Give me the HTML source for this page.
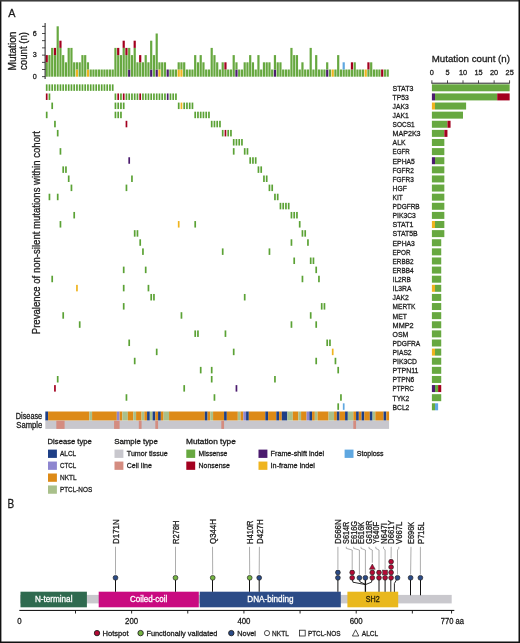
<!DOCTYPE html>
<html><head><meta charset="utf-8"><style>
html,body{margin:0;padding:0;background:#fff;overflow:hidden;}
svg{display:block;will-change:transform;}
text{font-family:"Liberation Sans",sans-serif;fill:#1c1c1c;stroke:#1c1c1c;stroke-width:0.3px;}
</style></head><body>
<svg width="520" height="643" viewBox="0 0 520 643">
<rect width="520" height="643" fill="#fff"/>
<rect x="45.60" y="62.30" width="2.2" height="14.40" fill="#67a840"/>
<rect x="45.60" y="55.10" width="2.2" height="7.20" fill="#a3001f"/>
<rect x="48.35" y="55.10" width="2.2" height="21.60" fill="#67a840"/>
<rect x="51.10" y="47.90" width="2.2" height="28.80" fill="#67a840"/>
<rect x="53.85" y="55.10" width="2.2" height="21.60" fill="#67a840"/>
<rect x="53.85" y="47.90" width="2.2" height="7.20" fill="#a3001f"/>
<rect x="56.60" y="26.30" width="2.2" height="50.40" fill="#67a840"/>
<rect x="59.35" y="47.90" width="2.2" height="28.80" fill="#67a840"/>
<rect x="59.35" y="40.70" width="2.2" height="7.20" fill="#a3001f"/>
<rect x="62.10" y="55.10" width="2.2" height="21.60" fill="#67a840"/>
<rect x="64.85" y="62.30" width="2.2" height="14.40" fill="#67a840"/>
<rect x="67.60" y="47.90" width="2.2" height="28.80" fill="#67a840"/>
<rect x="70.35" y="47.90" width="2.2" height="28.80" fill="#67a840"/>
<rect x="73.10" y="62.30" width="2.2" height="14.40" fill="#67a840"/>
<rect x="75.85" y="69.50" width="2.2" height="7.20" fill="#efb41f"/>
<rect x="75.85" y="62.30" width="2.2" height="7.20" fill="#67a840"/>
<rect x="78.60" y="62.30" width="2.2" height="14.40" fill="#67a840"/>
<rect x="81.35" y="55.10" width="2.2" height="21.60" fill="#67a840"/>
<rect x="84.10" y="55.10" width="2.2" height="21.60" fill="#67a840"/>
<rect x="86.85" y="69.50" width="2.2" height="7.20" fill="#efb41f"/>
<rect x="86.85" y="62.30" width="2.2" height="7.20" fill="#67a840"/>
<rect x="89.60" y="69.50" width="2.2" height="7.20" fill="#67a840"/>
<rect x="92.35" y="69.50" width="2.2" height="7.20" fill="#67a840"/>
<rect x="95.10" y="69.50" width="2.2" height="7.20" fill="#67a840"/>
<rect x="97.85" y="69.50" width="2.2" height="7.20" fill="#67a840"/>
<rect x="100.60" y="69.50" width="2.2" height="7.20" fill="#67a840"/>
<rect x="103.35" y="69.50" width="2.2" height="7.20" fill="#67a840"/>
<rect x="106.10" y="69.50" width="2.2" height="7.20" fill="#67a840"/>
<rect x="108.85" y="69.50" width="2.2" height="7.20" fill="#67a840"/>
<rect x="111.60" y="69.50" width="2.2" height="7.20" fill="#67a840"/>
<rect x="114.35" y="47.90" width="2.2" height="28.80" fill="#67a840"/>
<rect x="117.10" y="55.10" width="2.2" height="21.60" fill="#67a840"/>
<rect x="117.10" y="47.90" width="2.2" height="7.20" fill="#a3001f"/>
<rect x="119.85" y="55.10" width="2.2" height="21.60" fill="#67a840"/>
<rect x="122.60" y="47.90" width="2.2" height="28.80" fill="#67a840"/>
<rect x="122.60" y="40.70" width="2.2" height="7.20" fill="#a3001f"/>
<rect x="125.35" y="55.10" width="2.2" height="21.60" fill="#67a840"/>
<rect x="125.35" y="47.90" width="2.2" height="7.20" fill="#a3001f"/>
<rect x="128.10" y="69.50" width="2.2" height="7.20" fill="#4b1b6e"/>
<rect x="128.10" y="47.90" width="2.2" height="21.60" fill="#67a840"/>
<rect x="130.85" y="55.10" width="2.2" height="21.60" fill="#67a840"/>
<rect x="133.60" y="47.90" width="2.2" height="28.80" fill="#67a840"/>
<rect x="133.60" y="40.70" width="2.2" height="7.20" fill="#a3001f"/>
<rect x="136.35" y="62.30" width="2.2" height="14.40" fill="#67a840"/>
<rect x="139.10" y="62.30" width="2.2" height="14.40" fill="#67a840"/>
<rect x="139.10" y="55.10" width="2.2" height="7.20" fill="#a3001f"/>
<rect x="141.85" y="62.30" width="2.2" height="14.40" fill="#67a840"/>
<rect x="144.60" y="55.10" width="2.2" height="21.60" fill="#67a840"/>
<rect x="147.35" y="62.30" width="2.2" height="14.40" fill="#67a840"/>
<rect x="150.10" y="69.50" width="2.2" height="7.20" fill="#4b1b6e"/>
<rect x="150.10" y="40.70" width="2.2" height="28.80" fill="#67a840"/>
<rect x="152.85" y="55.10" width="2.2" height="21.60" fill="#67a840"/>
<rect x="155.60" y="69.50" width="2.2" height="7.20" fill="#4b1b6e"/>
<rect x="155.60" y="33.50" width="2.2" height="36.00" fill="#67a840"/>
<rect x="158.35" y="69.50" width="2.2" height="7.20" fill="#efb41f"/>
<rect x="158.35" y="62.30" width="2.2" height="7.20" fill="#67a840"/>
<rect x="161.10" y="62.30" width="2.2" height="14.40" fill="#67a840"/>
<rect x="163.85" y="62.30" width="2.2" height="14.40" fill="#67a840"/>
<rect x="166.60" y="69.50" width="2.2" height="7.20" fill="#4b1b6e"/>
<rect x="169.35" y="69.50" width="2.2" height="7.20" fill="#67a840"/>
<rect x="172.10" y="69.50" width="2.2" height="7.20" fill="#67a840"/>
<rect x="174.85" y="69.50" width="2.2" height="7.20" fill="#67a840"/>
<rect x="177.60" y="69.50" width="2.2" height="7.20" fill="#efb41f"/>
<rect x="177.60" y="62.30" width="2.2" height="7.20" fill="#67a840"/>
<rect x="180.35" y="69.50" width="2.2" height="7.20" fill="#efb41f"/>
<rect x="180.35" y="62.30" width="2.2" height="7.20" fill="#67a840"/>
<rect x="183.10" y="62.30" width="2.2" height="14.40" fill="#67a840"/>
<rect x="185.85" y="69.50" width="2.2" height="7.20" fill="#67a840"/>
<rect x="188.60" y="69.50" width="2.2" height="7.20" fill="#67a840"/>
<rect x="191.35" y="69.50" width="2.2" height="7.20" fill="#67a840"/>
<rect x="194.10" y="55.10" width="2.2" height="21.60" fill="#67a840"/>
<rect x="196.85" y="62.30" width="2.2" height="14.40" fill="#67a840"/>
<rect x="199.60" y="55.10" width="2.2" height="21.60" fill="#67a840"/>
<rect x="202.35" y="62.30" width="2.2" height="14.40" fill="#67a840"/>
<rect x="205.10" y="69.50" width="2.2" height="7.20" fill="#67a840"/>
<rect x="207.85" y="69.50" width="2.2" height="7.20" fill="#67a840"/>
<rect x="210.60" y="47.90" width="2.2" height="28.80" fill="#67a840"/>
<rect x="213.35" y="55.10" width="2.2" height="21.60" fill="#67a840"/>
<rect x="216.10" y="62.30" width="2.2" height="14.40" fill="#67a840"/>
<rect x="218.85" y="69.50" width="2.2" height="7.20" fill="#67a840"/>
<rect x="221.60" y="62.30" width="2.2" height="14.40" fill="#67a840"/>
<rect x="224.35" y="69.50" width="2.2" height="7.20" fill="#67a840"/>
<rect x="224.35" y="62.30" width="2.2" height="7.20" fill="#a3001f"/>
<rect x="227.10" y="69.50" width="2.2" height="7.20" fill="#67a840"/>
<rect x="229.85" y="69.50" width="2.2" height="7.20" fill="#67a840"/>
<rect x="232.60" y="55.10" width="2.2" height="21.60" fill="#67a840"/>
<rect x="235.35" y="69.50" width="2.2" height="7.20" fill="#4b1b6e"/>
<rect x="235.35" y="62.30" width="2.2" height="7.20" fill="#67a840"/>
<rect x="238.10" y="69.50" width="2.2" height="7.20" fill="#67a840"/>
<rect x="240.85" y="69.50" width="2.2" height="7.20" fill="#67a840"/>
<rect x="243.60" y="62.30" width="2.2" height="14.40" fill="#67a840"/>
<rect x="246.35" y="62.30" width="2.2" height="14.40" fill="#67a840"/>
<rect x="249.10" y="55.10" width="2.2" height="21.60" fill="#67a840"/>
<rect x="251.85" y="62.30" width="2.2" height="14.40" fill="#67a840"/>
<rect x="254.60" y="69.50" width="2.2" height="7.20" fill="#67a840"/>
<rect x="257.35" y="55.10" width="2.2" height="21.60" fill="#67a840"/>
<rect x="260.10" y="69.50" width="2.2" height="7.20" fill="#67a840"/>
<rect x="262.85" y="62.30" width="2.2" height="14.40" fill="#67a840"/>
<rect x="265.60" y="62.30" width="2.2" height="14.40" fill="#67a840"/>
<rect x="268.35" y="62.30" width="2.2" height="14.40" fill="#67a840"/>
<rect x="271.10" y="69.50" width="2.2" height="7.20" fill="#67a840"/>
<rect x="273.85" y="69.50" width="2.2" height="7.20" fill="#4b1b6e"/>
<rect x="273.85" y="55.10" width="2.2" height="14.40" fill="#67a840"/>
<rect x="276.60" y="62.30" width="2.2" height="14.40" fill="#67a840"/>
<rect x="279.35" y="62.30" width="2.2" height="14.40" fill="#67a840"/>
<rect x="282.10" y="69.50" width="2.2" height="7.20" fill="#67a840"/>
<rect x="284.85" y="69.50" width="2.2" height="7.20" fill="#67a840"/>
<rect x="287.60" y="69.50" width="2.2" height="7.20" fill="#67a840"/>
<rect x="290.35" y="47.90" width="2.2" height="28.80" fill="#67a840"/>
<rect x="293.10" y="55.10" width="2.2" height="21.60" fill="#67a840"/>
<rect x="295.85" y="55.10" width="2.2" height="21.60" fill="#67a840"/>
<rect x="298.60" y="69.50" width="2.2" height="7.20" fill="#67a840"/>
<rect x="301.35" y="62.30" width="2.2" height="14.40" fill="#67a840"/>
<rect x="304.10" y="69.50" width="2.2" height="7.20" fill="#67a840"/>
<rect x="306.85" y="69.50" width="2.2" height="7.20" fill="#67a840"/>
<rect x="309.60" y="47.90" width="2.2" height="28.80" fill="#67a840"/>
<rect x="312.35" y="69.50" width="2.2" height="7.20" fill="#67a840"/>
<rect x="315.10" y="55.10" width="2.2" height="21.60" fill="#67a840"/>
<rect x="317.85" y="69.50" width="2.2" height="7.20" fill="#67a840"/>
<rect x="320.60" y="69.50" width="2.2" height="7.20" fill="#67a840"/>
<rect x="323.35" y="69.50" width="2.2" height="7.20" fill="#67a840"/>
<rect x="326.10" y="69.50" width="2.2" height="7.20" fill="#4b1b6e"/>
<rect x="326.10" y="62.30" width="2.2" height="7.20" fill="#67a840"/>
<rect x="328.85" y="69.50" width="2.2" height="7.20" fill="#67a840"/>
<rect x="331.60" y="69.50" width="2.2" height="7.20" fill="#efb41f"/>
<rect x="334.35" y="69.50" width="2.2" height="7.20" fill="#67a840"/>
<rect x="337.10" y="55.10" width="2.2" height="21.60" fill="#67a840"/>
<rect x="339.85" y="69.50" width="2.2" height="7.20" fill="#67a840"/>
<rect x="342.60" y="69.50" width="2.2" height="7.20" fill="#67a840"/>
<rect x="342.60" y="62.30" width="2.2" height="7.20" fill="#5fa7e0"/>
<rect x="345.35" y="69.50" width="2.2" height="7.20" fill="#67a840"/>
<rect x="348.10" y="69.50" width="2.2" height="7.20" fill="#67a840"/>
<rect x="350.85" y="69.50" width="2.2" height="7.20" fill="#67a840"/>
<rect x="350.85" y="62.30" width="2.2" height="7.20" fill="#a3001f"/>
<rect x="353.60" y="62.30" width="2.2" height="14.40" fill="#67a840"/>
<rect x="356.35" y="69.50" width="2.2" height="7.20" fill="#67a840"/>
<rect x="359.10" y="69.50" width="2.2" height="7.20" fill="#67a840"/>
<rect x="361.85" y="69.50" width="2.2" height="7.20" fill="#67a840"/>
<rect x="364.60" y="69.50" width="2.2" height="7.20" fill="#efb41f"/>
<rect x="367.35" y="69.50" width="2.2" height="7.20" fill="#67a840"/>
<rect x="367.35" y="62.30" width="2.2" height="7.20" fill="#a3001f"/>
<rect x="370.10" y="62.30" width="2.2" height="14.40" fill="#67a840"/>
<rect x="372.85" y="69.50" width="2.2" height="7.20" fill="#67a840"/>
<rect x="375.60" y="69.50" width="2.2" height="7.20" fill="#67a840"/>
<rect x="378.35" y="69.50" width="2.2" height="7.20" fill="#67a840"/>
<rect x="381.10" y="69.50" width="2.2" height="7.20" fill="#a3001f"/>
<rect x="383.85" y="69.50" width="2.2" height="7.20" fill="#67a840"/>
<rect x="386.60" y="69.50" width="2.2" height="7.20" fill="#67a840"/>
<rect x="45.85" y="84.35" width="1.7" height="6.5" fill="#5ba235"/>
<rect x="48.60" y="84.35" width="1.7" height="6.5" fill="#5ba235"/>
<rect x="51.35" y="84.35" width="1.7" height="6.5" fill="#5ba235"/>
<rect x="54.10" y="84.35" width="1.7" height="6.5" fill="#5ba235"/>
<rect x="56.85" y="84.35" width="1.7" height="6.5" fill="#5ba235"/>
<rect x="59.60" y="84.35" width="1.7" height="6.5" fill="#5ba235"/>
<rect x="62.35" y="84.35" width="1.7" height="6.5" fill="#5ba235"/>
<rect x="65.10" y="84.35" width="1.7" height="6.5" fill="#5ba235"/>
<rect x="67.85" y="84.35" width="1.7" height="6.5" fill="#5ba235"/>
<rect x="70.60" y="84.35" width="1.7" height="6.5" fill="#5ba235"/>
<rect x="73.35" y="84.35" width="1.7" height="6.5" fill="#5ba235"/>
<rect x="76.10" y="84.35" width="1.7" height="6.5" fill="#5ba235"/>
<rect x="78.85" y="84.35" width="1.7" height="6.5" fill="#5ba235"/>
<rect x="81.60" y="84.35" width="1.7" height="6.5" fill="#5ba235"/>
<rect x="84.35" y="84.35" width="1.7" height="6.5" fill="#5ba235"/>
<rect x="87.10" y="84.35" width="1.7" height="6.5" fill="#5ba235"/>
<rect x="89.85" y="84.35" width="1.7" height="6.5" fill="#5ba235"/>
<rect x="92.60" y="84.35" width="1.7" height="6.5" fill="#5ba235"/>
<rect x="95.35" y="84.35" width="1.7" height="6.5" fill="#5ba235"/>
<rect x="98.10" y="84.35" width="1.7" height="6.5" fill="#5ba235"/>
<rect x="100.85" y="84.35" width="1.7" height="6.5" fill="#5ba235"/>
<rect x="103.60" y="84.35" width="1.7" height="6.5" fill="#5ba235"/>
<rect x="106.35" y="84.35" width="1.7" height="6.5" fill="#5ba235"/>
<rect x="109.10" y="84.35" width="1.7" height="6.5" fill="#5ba235"/>
<rect x="111.85" y="84.35" width="1.7" height="6.5" fill="#5ba235"/>
<rect x="45.85" y="93.46" width="1.7" height="6.5" fill="#a3001f"/>
<rect x="48.60" y="93.46" width="1.7" height="6.5" fill="#5ba235"/>
<rect x="114.60" y="93.46" width="1.7" height="6.5" fill="#5ba235"/>
<rect x="117.35" y="93.46" width="1.7" height="6.5" fill="#a3001f"/>
<rect x="120.10" y="93.46" width="1.7" height="6.5" fill="#5ba235"/>
<rect x="122.85" y="93.46" width="1.7" height="6.5" fill="#a3001f"/>
<rect x="125.60" y="93.46" width="1.7" height="6.5" fill="#5ba235"/>
<rect x="128.35" y="93.46" width="1.7" height="6.5" fill="#5ba235"/>
<rect x="131.10" y="93.46" width="1.7" height="6.5" fill="#5ba235"/>
<rect x="133.85" y="93.46" width="1.7" height="6.5" fill="#5ba235"/>
<rect x="136.60" y="93.46" width="1.7" height="6.5" fill="#5ba235"/>
<rect x="139.35" y="93.46" width="1.7" height="6.5" fill="#a3001f"/>
<rect x="142.10" y="93.46" width="1.7" height="6.5" fill="#5ba235"/>
<rect x="144.85" y="93.46" width="1.7" height="6.5" fill="#5ba235"/>
<rect x="147.60" y="93.46" width="1.7" height="6.5" fill="#5ba235"/>
<rect x="150.35" y="93.46" width="1.7" height="6.5" fill="#5ba235"/>
<rect x="153.10" y="93.46" width="1.7" height="6.5" fill="#5ba235"/>
<rect x="155.85" y="93.46" width="1.7" height="6.5" fill="#5ba235"/>
<rect x="158.60" y="93.46" width="1.7" height="6.5" fill="#5ba235"/>
<rect x="161.35" y="93.46" width="1.7" height="6.5" fill="#5ba235"/>
<rect x="164.10" y="93.46" width="1.7" height="6.5" fill="#5ba235"/>
<rect x="166.85" y="93.46" width="1.7" height="6.5" fill="#4b1b6e"/>
<rect x="169.60" y="93.46" width="1.7" height="6.5" fill="#5ba235"/>
<rect x="172.35" y="93.46" width="1.7" height="6.5" fill="#5ba235"/>
<rect x="175.10" y="93.46" width="1.7" height="6.5" fill="#5ba235"/>
<rect x="51.35" y="102.58" width="1.7" height="6.5" fill="#5ba235"/>
<rect x="114.60" y="102.58" width="1.7" height="6.5" fill="#5ba235"/>
<rect x="117.35" y="102.58" width="1.7" height="6.5" fill="#5ba235"/>
<rect x="120.10" y="102.58" width="1.7" height="6.5" fill="#5ba235"/>
<rect x="122.85" y="102.58" width="1.7" height="6.5" fill="#5ba235"/>
<rect x="177.85" y="102.58" width="1.7" height="6.5" fill="#5ba235"/>
<rect x="180.60" y="102.58" width="1.7" height="6.5" fill="#efb41f"/>
<rect x="183.35" y="102.58" width="1.7" height="6.5" fill="#5ba235"/>
<rect x="186.10" y="102.58" width="1.7" height="6.5" fill="#5ba235"/>
<rect x="188.85" y="102.58" width="1.7" height="6.5" fill="#5ba235"/>
<rect x="191.60" y="102.58" width="1.7" height="6.5" fill="#5ba235"/>
<rect x="45.85" y="111.69" width="1.7" height="6.5" fill="#5ba235"/>
<rect x="114.60" y="111.69" width="1.7" height="6.5" fill="#5ba235"/>
<rect x="117.35" y="111.69" width="1.7" height="6.5" fill="#5ba235"/>
<rect x="120.10" y="111.69" width="1.7" height="6.5" fill="#5ba235"/>
<rect x="194.35" y="111.69" width="1.7" height="6.5" fill="#5ba235"/>
<rect x="197.10" y="111.69" width="1.7" height="6.5" fill="#5ba235"/>
<rect x="199.85" y="111.69" width="1.7" height="6.5" fill="#5ba235"/>
<rect x="202.60" y="111.69" width="1.7" height="6.5" fill="#5ba235"/>
<rect x="205.35" y="111.69" width="1.7" height="6.5" fill="#5ba235"/>
<rect x="208.10" y="111.69" width="1.7" height="6.5" fill="#5ba235"/>
<rect x="54.10" y="120.81" width="1.7" height="6.5" fill="#5ba235"/>
<rect x="125.60" y="120.81" width="1.7" height="6.5" fill="#a3001f"/>
<rect x="210.85" y="120.81" width="1.7" height="6.5" fill="#5ba235"/>
<rect x="213.60" y="120.81" width="1.7" height="6.5" fill="#5ba235"/>
<rect x="216.35" y="120.81" width="1.7" height="6.5" fill="#5ba235"/>
<rect x="219.10" y="120.81" width="1.7" height="6.5" fill="#5ba235"/>
<rect x="56.85" y="129.92" width="1.7" height="6.5" fill="#5ba235"/>
<rect x="221.85" y="129.92" width="1.7" height="6.5" fill="#5ba235"/>
<rect x="224.60" y="129.92" width="1.7" height="6.5" fill="#a3001f"/>
<rect x="227.35" y="129.92" width="1.7" height="6.5" fill="#5ba235"/>
<rect x="230.10" y="129.92" width="1.7" height="6.5" fill="#5ba235"/>
<rect x="232.85" y="139.03" width="1.7" height="6.5" fill="#5ba235"/>
<rect x="235.60" y="139.03" width="1.7" height="6.5" fill="#5ba235"/>
<rect x="238.35" y="139.03" width="1.7" height="6.5" fill="#5ba235"/>
<rect x="241.10" y="139.03" width="1.7" height="6.5" fill="#5ba235"/>
<rect x="59.60" y="148.15" width="1.7" height="6.5" fill="#5ba235"/>
<rect x="232.85" y="148.15" width="1.7" height="6.5" fill="#5ba235"/>
<rect x="243.85" y="148.15" width="1.7" height="6.5" fill="#5ba235"/>
<rect x="246.60" y="148.15" width="1.7" height="6.5" fill="#5ba235"/>
<rect x="128.35" y="157.26" width="1.7" height="6.5" fill="#4b1b6e"/>
<rect x="249.35" y="157.26" width="1.7" height="6.5" fill="#5ba235"/>
<rect x="252.10" y="157.26" width="1.7" height="6.5" fill="#5ba235"/>
<rect x="254.85" y="157.26" width="1.7" height="6.5" fill="#5ba235"/>
<rect x="62.35" y="166.38" width="1.7" height="6.5" fill="#5ba235"/>
<rect x="65.10" y="166.38" width="1.7" height="6.5" fill="#5ba235"/>
<rect x="257.60" y="166.38" width="1.7" height="6.5" fill="#5ba235"/>
<rect x="260.35" y="166.38" width="1.7" height="6.5" fill="#5ba235"/>
<rect x="67.85" y="175.49" width="1.7" height="6.5" fill="#5ba235"/>
<rect x="131.10" y="175.49" width="1.7" height="6.5" fill="#5ba235"/>
<rect x="263.10" y="175.49" width="1.7" height="6.5" fill="#5ba235"/>
<rect x="265.85" y="175.49" width="1.7" height="6.5" fill="#5ba235"/>
<rect x="70.60" y="184.60" width="1.7" height="6.5" fill="#5ba235"/>
<rect x="125.60" y="184.60" width="1.7" height="6.5" fill="#5ba235"/>
<rect x="268.60" y="184.60" width="1.7" height="6.5" fill="#5ba235"/>
<rect x="271.35" y="184.60" width="1.7" height="6.5" fill="#5ba235"/>
<rect x="48.60" y="193.72" width="1.7" height="6.5" fill="#5ba235"/>
<rect x="56.85" y="193.72" width="1.7" height="6.5" fill="#5ba235"/>
<rect x="274.10" y="193.72" width="1.7" height="6.5" fill="#5ba235"/>
<rect x="276.85" y="193.72" width="1.7" height="6.5" fill="#5ba235"/>
<rect x="279.60" y="202.83" width="1.7" height="6.5" fill="#5ba235"/>
<rect x="282.35" y="202.83" width="1.7" height="6.5" fill="#5ba235"/>
<rect x="285.10" y="202.83" width="1.7" height="6.5" fill="#5ba235"/>
<rect x="287.85" y="202.83" width="1.7" height="6.5" fill="#5ba235"/>
<rect x="73.35" y="211.95" width="1.7" height="6.5" fill="#5ba235"/>
<rect x="290.60" y="211.95" width="1.7" height="6.5" fill="#5ba235"/>
<rect x="293.35" y="211.95" width="1.7" height="6.5" fill="#5ba235"/>
<rect x="296.10" y="211.95" width="1.7" height="6.5" fill="#5ba235"/>
<rect x="59.60" y="221.06" width="1.7" height="6.5" fill="#5ba235"/>
<rect x="177.85" y="221.06" width="1.7" height="6.5" fill="#efb41f"/>
<rect x="194.35" y="221.06" width="1.7" height="6.5" fill="#5ba235"/>
<rect x="298.85" y="221.06" width="1.7" height="6.5" fill="#5ba235"/>
<rect x="133.85" y="230.17" width="1.7" height="6.5" fill="#5ba235"/>
<rect x="136.60" y="230.17" width="1.7" height="6.5" fill="#5ba235"/>
<rect x="301.60" y="230.17" width="1.7" height="6.5" fill="#5ba235"/>
<rect x="304.35" y="230.17" width="1.7" height="6.5" fill="#5ba235"/>
<rect x="139.35" y="239.29" width="1.7" height="6.5" fill="#5ba235"/>
<rect x="290.60" y="239.29" width="1.7" height="6.5" fill="#5ba235"/>
<rect x="307.10" y="239.29" width="1.7" height="6.5" fill="#5ba235"/>
<rect x="142.10" y="248.40" width="1.7" height="6.5" fill="#5ba235"/>
<rect x="221.85" y="248.40" width="1.7" height="6.5" fill="#5ba235"/>
<rect x="268.60" y="248.40" width="1.7" height="6.5" fill="#5ba235"/>
<rect x="293.35" y="257.52" width="1.7" height="6.5" fill="#5ba235"/>
<rect x="309.85" y="257.52" width="1.7" height="6.5" fill="#5ba235"/>
<rect x="312.60" y="257.52" width="1.7" height="6.5" fill="#5ba235"/>
<rect x="122.85" y="266.63" width="1.7" height="6.5" fill="#5ba235"/>
<rect x="144.85" y="266.63" width="1.7" height="6.5" fill="#5ba235"/>
<rect x="315.35" y="266.63" width="1.7" height="6.5" fill="#5ba235"/>
<rect x="51.35" y="275.74" width="1.7" height="6.5" fill="#5ba235"/>
<rect x="301.60" y="275.74" width="1.7" height="6.5" fill="#5ba235"/>
<rect x="318.10" y="275.74" width="1.7" height="6.5" fill="#5ba235"/>
<rect x="76.10" y="284.86" width="1.7" height="6.5" fill="#efb41f"/>
<rect x="122.85" y="284.86" width="1.7" height="6.5" fill="#5ba235"/>
<rect x="147.60" y="284.86" width="1.7" height="6.5" fill="#5ba235"/>
<rect x="150.35" y="293.97" width="1.7" height="6.5" fill="#5ba235"/>
<rect x="153.10" y="293.97" width="1.7" height="6.5" fill="#5ba235"/>
<rect x="243.85" y="293.97" width="1.7" height="6.5" fill="#5ba235"/>
<rect x="122.85" y="303.09" width="1.7" height="6.5" fill="#5ba235"/>
<rect x="320.85" y="303.09" width="1.7" height="6.5" fill="#5ba235"/>
<rect x="323.60" y="303.09" width="1.7" height="6.5" fill="#5ba235"/>
<rect x="62.35" y="312.20" width="1.7" height="6.5" fill="#5ba235"/>
<rect x="180.60" y="312.20" width="1.7" height="6.5" fill="#5ba235"/>
<rect x="309.85" y="312.20" width="1.7" height="6.5" fill="#5ba235"/>
<rect x="78.85" y="321.31" width="1.7" height="6.5" fill="#5ba235"/>
<rect x="290.60" y="321.31" width="1.7" height="6.5" fill="#5ba235"/>
<rect x="315.35" y="321.31" width="1.7" height="6.5" fill="#5ba235"/>
<rect x="194.35" y="330.43" width="1.7" height="6.5" fill="#5ba235"/>
<rect x="197.10" y="330.43" width="1.7" height="6.5" fill="#5ba235"/>
<rect x="224.60" y="330.43" width="1.7" height="6.5" fill="#5ba235"/>
<rect x="128.35" y="339.54" width="1.7" height="6.5" fill="#5ba235"/>
<rect x="326.35" y="339.54" width="1.7" height="6.5" fill="#5ba235"/>
<rect x="329.10" y="339.54" width="1.7" height="6.5" fill="#5ba235"/>
<rect x="155.85" y="348.66" width="1.7" height="6.5" fill="#5ba235"/>
<rect x="232.85" y="348.66" width="1.7" height="6.5" fill="#5ba235"/>
<rect x="331.85" y="348.66" width="1.7" height="6.5" fill="#efb41f"/>
<rect x="133.85" y="357.77" width="1.7" height="6.5" fill="#5ba235"/>
<rect x="315.35" y="357.77" width="1.7" height="6.5" fill="#5ba235"/>
<rect x="334.60" y="357.77" width="1.7" height="6.5" fill="#5ba235"/>
<rect x="199.85" y="366.88" width="1.7" height="6.5" fill="#5ba235"/>
<rect x="210.85" y="366.88" width="1.7" height="6.5" fill="#5ba235"/>
<rect x="337.35" y="366.88" width="1.7" height="6.5" fill="#5ba235"/>
<rect x="56.85" y="376.00" width="1.7" height="6.5" fill="#5ba235"/>
<rect x="210.85" y="376.00" width="1.7" height="6.5" fill="#5ba235"/>
<rect x="274.10" y="376.00" width="1.7" height="6.5" fill="#5ba235"/>
<rect x="54.10" y="385.11" width="1.7" height="6.5" fill="#a3001f"/>
<rect x="183.35" y="385.11" width="1.7" height="6.5" fill="#5ba235"/>
<rect x="235.60" y="385.11" width="1.7" height="6.5" fill="#4b1b6e"/>
<rect x="125.60" y="394.23" width="1.7" height="6.5" fill="#5ba235"/>
<rect x="213.60" y="394.23" width="1.7" height="6.5" fill="#5ba235"/>
<rect x="340.10" y="394.23" width="1.7" height="6.5" fill="#5ba235"/>
<rect x="337.35" y="403.34" width="1.7" height="6.5" fill="#5ba235"/>
<rect x="342.85" y="403.34" width="1.7" height="6.5" fill="#5fa7e0"/>
<rect x="431.90" y="84.30" width="77.75" height="7.0" fill="#67a840"/>
<rect x="431.90" y="93.41" width="3.11" height="7.0" fill="#4b1b6e"/>
<rect x="435.01" y="93.41" width="62.20" height="7.0" fill="#67a840"/>
<rect x="497.21" y="93.41" width="12.44" height="7.0" fill="#a3001f"/>
<rect x="431.90" y="102.53" width="3.11" height="7.0" fill="#efb41f"/>
<rect x="435.01" y="102.53" width="31.10" height="7.0" fill="#67a840"/>
<rect x="431.90" y="111.64" width="31.10" height="7.0" fill="#67a840"/>
<rect x="431.90" y="120.76" width="15.55" height="7.0" fill="#67a840"/>
<rect x="447.45" y="120.76" width="3.11" height="7.0" fill="#a3001f"/>
<rect x="431.90" y="129.87" width="12.44" height="7.0" fill="#67a840"/>
<rect x="444.34" y="129.87" width="3.11" height="7.0" fill="#a3001f"/>
<rect x="431.90" y="138.98" width="12.44" height="7.0" fill="#67a840"/>
<rect x="431.90" y="148.10" width="12.44" height="7.0" fill="#67a840"/>
<rect x="431.90" y="157.21" width="3.11" height="7.0" fill="#4b1b6e"/>
<rect x="435.01" y="157.21" width="9.33" height="7.0" fill="#67a840"/>
<rect x="431.90" y="166.33" width="12.44" height="7.0" fill="#67a840"/>
<rect x="431.90" y="175.44" width="12.44" height="7.0" fill="#67a840"/>
<rect x="431.90" y="184.55" width="12.44" height="7.0" fill="#67a840"/>
<rect x="431.90" y="193.67" width="12.44" height="7.0" fill="#67a840"/>
<rect x="431.90" y="202.78" width="12.44" height="7.0" fill="#67a840"/>
<rect x="431.90" y="211.90" width="12.44" height="7.0" fill="#67a840"/>
<rect x="431.90" y="221.01" width="3.11" height="7.0" fill="#efb41f"/>
<rect x="435.01" y="221.01" width="9.33" height="7.0" fill="#67a840"/>
<rect x="431.90" y="230.12" width="12.44" height="7.0" fill="#67a840"/>
<rect x="431.90" y="239.24" width="9.33" height="7.0" fill="#67a840"/>
<rect x="431.90" y="248.35" width="9.33" height="7.0" fill="#67a840"/>
<rect x="431.90" y="257.47" width="9.33" height="7.0" fill="#67a840"/>
<rect x="431.90" y="266.58" width="9.33" height="7.0" fill="#67a840"/>
<rect x="431.90" y="275.69" width="9.33" height="7.0" fill="#67a840"/>
<rect x="431.90" y="284.81" width="3.11" height="7.0" fill="#efb41f"/>
<rect x="435.01" y="284.81" width="6.22" height="7.0" fill="#67a840"/>
<rect x="431.90" y="293.92" width="9.33" height="7.0" fill="#67a840"/>
<rect x="431.90" y="303.04" width="9.33" height="7.0" fill="#67a840"/>
<rect x="431.90" y="312.15" width="9.33" height="7.0" fill="#67a840"/>
<rect x="431.90" y="321.26" width="9.33" height="7.0" fill="#67a840"/>
<rect x="431.90" y="330.38" width="9.33" height="7.0" fill="#67a840"/>
<rect x="431.90" y="339.49" width="9.33" height="7.0" fill="#67a840"/>
<rect x="431.90" y="348.61" width="3.11" height="7.0" fill="#efb41f"/>
<rect x="435.01" y="348.61" width="6.22" height="7.0" fill="#67a840"/>
<rect x="431.90" y="357.72" width="9.33" height="7.0" fill="#67a840"/>
<rect x="431.90" y="366.83" width="9.33" height="7.0" fill="#67a840"/>
<rect x="431.90" y="375.95" width="9.33" height="7.0" fill="#67a840"/>
<rect x="431.90" y="385.06" width="3.11" height="7.0" fill="#4b1b6e"/>
<rect x="435.01" y="385.06" width="3.11" height="7.0" fill="#67a840"/>
<rect x="438.12" y="385.06" width="3.11" height="7.0" fill="#a3001f"/>
<rect x="431.90" y="394.18" width="9.33" height="7.0" fill="#67a840"/>
<rect x="431.90" y="403.29" width="3.11" height="7.0" fill="#67a840"/>
<rect x="435.01" y="403.29" width="3.11" height="7.0" fill="#5fa7e0"/>
<rect x="45.33" y="411.5" width="2.75" height="9.1" fill="#1e3f86"/>
<rect x="48.08" y="411.5" width="41.25" height="9.1" fill="#dd8a17"/>
<rect x="89.33" y="411.5" width="2.75" height="9.1" fill="#a9c08b"/>
<rect x="92.08" y="411.5" width="24.75" height="9.1" fill="#dd8a17"/>
<rect x="116.83" y="411.5" width="2.75" height="9.1" fill="#8e86d0"/>
<rect x="119.58" y="411.5" width="2.75" height="9.1" fill="#dd8a17"/>
<rect x="122.33" y="411.5" width="5.50" height="9.1" fill="#a9c08b"/>
<rect x="127.82" y="411.5" width="5.50" height="9.1" fill="#dd8a17"/>
<rect x="133.32" y="411.5" width="2.75" height="9.1" fill="#a9c08b"/>
<rect x="136.07" y="411.5" width="5.50" height="9.1" fill="#dd8a17"/>
<rect x="141.57" y="411.5" width="2.75" height="9.1" fill="#a9c08b"/>
<rect x="144.32" y="411.5" width="2.75" height="9.1" fill="#dd8a17"/>
<rect x="147.07" y="411.5" width="2.75" height="9.1" fill="#1e3f86"/>
<rect x="149.82" y="411.5" width="2.75" height="9.1" fill="#a9c08b"/>
<rect x="152.57" y="411.5" width="2.75" height="9.1" fill="#1e3f86"/>
<rect x="155.32" y="411.5" width="2.75" height="9.1" fill="#dd8a17"/>
<rect x="158.07" y="411.5" width="2.75" height="9.1" fill="#1e3f86"/>
<rect x="160.82" y="411.5" width="2.75" height="9.1" fill="#dd8a17"/>
<rect x="163.57" y="411.5" width="5.50" height="9.1" fill="#a9c08b"/>
<rect x="169.07" y="411.5" width="35.75" height="9.1" fill="#dd8a17"/>
<rect x="204.82" y="411.5" width="2.75" height="9.1" fill="#1e3f86"/>
<rect x="207.57" y="411.5" width="2.75" height="9.1" fill="#dd8a17"/>
<rect x="210.32" y="411.5" width="2.75" height="9.1" fill="#a9c08b"/>
<rect x="213.07" y="411.5" width="11.00" height="9.1" fill="#dd8a17"/>
<rect x="224.07" y="411.5" width="2.75" height="9.1" fill="#1e3f86"/>
<rect x="226.82" y="411.5" width="11.00" height="9.1" fill="#dd8a17"/>
<rect x="237.82" y="411.5" width="2.75" height="9.1" fill="#a9c08b"/>
<rect x="240.57" y="411.5" width="2.75" height="9.1" fill="#dd8a17"/>
<rect x="243.32" y="411.5" width="2.75" height="9.1" fill="#8e86d0"/>
<rect x="246.07" y="411.5" width="2.75" height="9.1" fill="#1e3f86"/>
<rect x="248.82" y="411.5" width="16.50" height="9.1" fill="#dd8a17"/>
<rect x="265.32" y="411.5" width="2.75" height="9.1" fill="#1e3f86"/>
<rect x="268.07" y="411.5" width="8.25" height="9.1" fill="#dd8a17"/>
<rect x="276.32" y="411.5" width="2.75" height="9.1" fill="#1e3f86"/>
<rect x="279.07" y="411.5" width="2.75" height="9.1" fill="#dd8a17"/>
<rect x="281.82" y="411.5" width="5.50" height="9.1" fill="#1e3f86"/>
<rect x="287.32" y="411.5" width="5.50" height="9.1" fill="#a9c08b"/>
<rect x="292.82" y="411.5" width="5.50" height="9.1" fill="#dd8a17"/>
<rect x="298.32" y="411.5" width="2.75" height="9.1" fill="#a9c08b"/>
<rect x="301.07" y="411.5" width="5.50" height="9.1" fill="#dd8a17"/>
<rect x="306.57" y="411.5" width="2.75" height="9.1" fill="#8e86d0"/>
<rect x="309.32" y="411.5" width="2.75" height="9.1" fill="#1e3f86"/>
<rect x="312.07" y="411.5" width="2.75" height="9.1" fill="#dd8a17"/>
<rect x="314.82" y="411.5" width="2.75" height="9.1" fill="#a9c08b"/>
<rect x="317.57" y="411.5" width="11.00" height="9.1" fill="#dd8a17"/>
<rect x="328.57" y="411.5" width="5.50" height="9.1" fill="#a9c08b"/>
<rect x="334.07" y="411.5" width="2.75" height="9.1" fill="#dd8a17"/>
<rect x="336.82" y="411.5" width="2.75" height="9.1" fill="#1e3f86"/>
<rect x="339.57" y="411.5" width="5.50" height="9.1" fill="#dd8a17"/>
<rect x="345.07" y="411.5" width="2.75" height="9.1" fill="#1e3f86"/>
<rect x="347.82" y="411.5" width="5.50" height="9.1" fill="#a9c08b"/>
<rect x="353.32" y="411.5" width="2.75" height="9.1" fill="#dd8a17"/>
<rect x="356.07" y="411.5" width="2.75" height="9.1" fill="#1e3f86"/>
<rect x="358.82" y="411.5" width="2.75" height="9.1" fill="#dd8a17"/>
<rect x="361.57" y="411.5" width="2.75" height="9.1" fill="#1e3f86"/>
<rect x="364.32" y="411.5" width="5.50" height="9.1" fill="#dd8a17"/>
<rect x="369.82" y="411.5" width="2.75" height="9.1" fill="#1e3f86"/>
<rect x="372.57" y="411.5" width="2.75" height="9.1" fill="#a9c08b"/>
<rect x="375.32" y="411.5" width="8.25" height="9.1" fill="#dd8a17"/>
<rect x="383.57" y="411.5" width="2.75" height="9.1" fill="#1e3f86"/>
<rect x="386.32" y="411.5" width="2.75" height="9.1" fill="#dd8a17"/>
<rect x="45.33" y="420.7" width="343.75" height="8.2" fill="#c8c7cd"/>
<rect x="56.33" y="420.7" width="8.25" height="8.2" fill="#d48c80"/>
<rect x="114.08" y="420.7" width="5.50" height="8.2" fill="#d48c80"/>
<rect x="138.82" y="420.7" width="2.75" height="8.2" fill="#d48c80"/>
<rect x="155.32" y="420.7" width="2.75" height="8.2" fill="#d48c80"/>
<rect x="221.32" y="420.7" width="2.75" height="8.2" fill="#d48c80"/>
<rect x="353.32" y="420.7" width="2.75" height="8.2" fill="#d48c80"/>
<rect x="0" y="0" width="1.4" height="643" fill="#111"/>
<rect x="0" y="0" width="520" height="1.55" fill="#3c3c3c"/>
<rect x="518.5" y="0" width="1.5" height="643" fill="#111"/>
<rect x="0" y="641.5" width="520" height="1.5" fill="#111"/>
<text x="8.20" y="16.70" font-size="11.80" textLength="7.22" lengthAdjust="spacingAndGlyphs">A</text>
<text x="7.60" y="507.70" font-size="12.30" textLength="6.67" lengthAdjust="spacingAndGlyphs">B</text>
<text transform="translate(15.70,70.60) rotate(-90)" font-size="10.20" textLength="39.14" lengthAdjust="spacingAndGlyphs">Mutation</text>
<text transform="translate(27.00,70.00) rotate(-90)" font-size="10.10" textLength="38.07" lengthAdjust="spacingAndGlyphs">count (n)</text>
<text transform="translate(39.80,334.20) rotate(-90)" font-size="10.00" textLength="203.00" lengthAdjust="spacingAndGlyphs">Prevalence of non-silent mutations within cohort</text>
<text x="431.70" y="62.00" font-size="9.80" textLength="78.30" lengthAdjust="spacingAndGlyphs">Mutation count (n)</text>
<text x="32.80" y="35.80" font-size="7.80" textLength="4.00" lengthAdjust="spacingAndGlyphs">6</text>
<text x="32.80" y="57.40" font-size="7.80" textLength="4.00" lengthAdjust="spacingAndGlyphs">3</text>
<text x="32.80" y="79.00" font-size="7.80" textLength="4.00" lengthAdjust="spacingAndGlyphs">0</text>
<rect x="431.4" y="82.7" width="78.4" height="1" fill="#222"/>
<rect x="431.50" y="80.3" width="0.8" height="2.9" fill="#222"/>
<text x="429.85" y="75.10" font-size="8.00" textLength="4.10" lengthAdjust="spacingAndGlyphs">0</text>
<rect x="447.05" y="80.3" width="0.8" height="2.9" fill="#222"/>
<text x="445.40" y="75.10" font-size="8.00" textLength="4.10" lengthAdjust="spacingAndGlyphs">5</text>
<rect x="462.60" y="80.3" width="0.8" height="2.9" fill="#222"/>
<text x="458.90" y="75.10" font-size="8.00" textLength="8.21" lengthAdjust="spacingAndGlyphs">10</text>
<rect x="478.15" y="80.3" width="0.8" height="2.9" fill="#222"/>
<text x="474.45" y="75.10" font-size="8.00" textLength="8.21" lengthAdjust="spacingAndGlyphs">15</text>
<rect x="493.70" y="80.3" width="0.8" height="2.9" fill="#222"/>
<text x="490.00" y="75.10" font-size="8.00" textLength="8.21" lengthAdjust="spacingAndGlyphs">20</text>
<rect x="509.25" y="80.3" width="0.8" height="2.9" fill="#222"/>
<text x="505.55" y="75.10" font-size="8.00" textLength="8.21" lengthAdjust="spacingAndGlyphs">25</text>
<rect x="44.6" y="23" width="1.0" height="56" fill="#222"/>
<rect x="42" y="76.30" width="3.2" height="0.8" fill="#222"/>
<rect x="42" y="69.10" width="3.2" height="0.8" fill="#222"/>
<rect x="42" y="61.90" width="3.2" height="0.8" fill="#222"/>
<rect x="42" y="54.70" width="3.2" height="0.8" fill="#222"/>
<rect x="42" y="47.50" width="3.2" height="0.8" fill="#222"/>
<rect x="42" y="40.30" width="3.2" height="0.8" fill="#222"/>
<rect x="42" y="33.10" width="3.2" height="0.8" fill="#222"/>
<rect x="42" y="25.90" width="3.2" height="0.8" fill="#222"/>
<text x="392.60" y="90.65" font-size="7.95" textLength="20.77" lengthAdjust="spacingAndGlyphs">STAT3</text>
<text x="392.60" y="99.76" font-size="7.95" textLength="16.34" lengthAdjust="spacingAndGlyphs">TP53</text>
<text x="392.60" y="108.88" font-size="7.95" textLength="16.19" lengthAdjust="spacingAndGlyphs">JAK3</text>
<text x="392.60" y="117.99" font-size="7.95" textLength="16.19" lengthAdjust="spacingAndGlyphs">JAK1</text>
<text x="392.60" y="127.11" font-size="7.95" textLength="22.01" lengthAdjust="spacingAndGlyphs">SOCS1</text>
<text x="392.60" y="136.22" font-size="7.95" textLength="27.95" lengthAdjust="spacingAndGlyphs">MAP2K3</text>
<text x="392.60" y="145.33" font-size="7.95" textLength="12.93" lengthAdjust="spacingAndGlyphs">ALK</text>
<text x="392.60" y="154.45" font-size="7.95" textLength="17.20" lengthAdjust="spacingAndGlyphs">EGFR</text>
<text x="392.60" y="163.56" font-size="7.95" textLength="22.27" lengthAdjust="spacingAndGlyphs">EPHA5</text>
<text x="392.60" y="172.68" font-size="7.95" textLength="21.23" lengthAdjust="spacingAndGlyphs">FGFR2</text>
<text x="392.60" y="181.79" font-size="7.95" textLength="21.23" lengthAdjust="spacingAndGlyphs">FGFR3</text>
<text x="392.60" y="190.90" font-size="7.95" textLength="14.19" lengthAdjust="spacingAndGlyphs">HGF</text>
<text x="392.60" y="200.02" font-size="7.95" textLength="10.16" lengthAdjust="spacingAndGlyphs">KIT</text>
<text x="392.60" y="209.13" font-size="7.95" textLength="27.12" lengthAdjust="spacingAndGlyphs">PDGFRB</text>
<text x="392.60" y="218.25" font-size="7.95" textLength="23.21" lengthAdjust="spacingAndGlyphs">PIK3C3</text>
<text x="392.60" y="227.36" font-size="7.95" textLength="20.77" lengthAdjust="spacingAndGlyphs">STAT1</text>
<text x="392.60" y="236.47" font-size="7.95" textLength="25.07" lengthAdjust="spacingAndGlyphs">STAT5B</text>
<text x="392.60" y="245.59" font-size="7.95" textLength="22.27" lengthAdjust="spacingAndGlyphs">EPHA3</text>
<text x="392.60" y="254.70" font-size="7.95" textLength="17.90" lengthAdjust="spacingAndGlyphs">EPOR</text>
<text x="392.60" y="263.82" font-size="7.95" textLength="20.88" lengthAdjust="spacingAndGlyphs">ERBB2</text>
<text x="392.60" y="272.93" font-size="7.95" textLength="20.88" lengthAdjust="spacingAndGlyphs">ERBB4</text>
<text x="392.60" y="282.04" font-size="7.95" textLength="18.32" lengthAdjust="spacingAndGlyphs">IL2RB</text>
<text x="392.60" y="291.16" font-size="7.95" textLength="18.87" lengthAdjust="spacingAndGlyphs">IL3RA</text>
<text x="392.60" y="300.27" font-size="7.95" textLength="16.19" lengthAdjust="spacingAndGlyphs">JAK2</text>
<text x="392.60" y="309.39" font-size="7.95" textLength="22.84" lengthAdjust="spacingAndGlyphs">MERTK</text>
<text x="392.60" y="318.50" font-size="7.95" textLength="14.25" lengthAdjust="spacingAndGlyphs">MET</text>
<text x="392.60" y="327.61" font-size="7.95" textLength="21.09" lengthAdjust="spacingAndGlyphs">MMP2</text>
<text x="392.60" y="336.73" font-size="7.95" textLength="15.79" lengthAdjust="spacingAndGlyphs">OSM</text>
<text x="392.60" y="345.84" font-size="7.95" textLength="27.67" lengthAdjust="spacingAndGlyphs">PDGFRA</text>
<text x="392.60" y="354.96" font-size="7.95" textLength="18.99" lengthAdjust="spacingAndGlyphs">PIAS2</text>
<text x="392.60" y="364.07" font-size="7.95" textLength="24.42" lengthAdjust="spacingAndGlyphs">PIK3CD</text>
<text x="392.60" y="373.18" font-size="7.95" textLength="25.80" lengthAdjust="spacingAndGlyphs">PTPN11</text>
<text x="392.60" y="382.30" font-size="7.95" textLength="21.72" lengthAdjust="spacingAndGlyphs">PTPN6</text>
<text x="392.60" y="391.41" font-size="7.95" textLength="21.30" lengthAdjust="spacingAndGlyphs">PTPRC</text>
<text x="392.60" y="400.53" font-size="7.95" textLength="16.64" lengthAdjust="spacingAndGlyphs">TYK2</text>
<text x="392.60" y="409.64" font-size="7.95" textLength="16.75" lengthAdjust="spacingAndGlyphs">BCL2</text>
<text x="15.84" y="419.00" font-size="8.30" textLength="26.36" lengthAdjust="spacingAndGlyphs">Disease</text>
<text x="16.35" y="427.70" font-size="8.30" textLength="25.85" lengthAdjust="spacingAndGlyphs">Sample</text>
<text x="47.60" y="444.10" font-size="7.56" textLength="44.18" lengthAdjust="spacingAndGlyphs">Disease type</text>
<rect x="48" y="449.6" width="8.9" height="8.3" fill="#1e3f86"/>
<text x="60.00" y="455.90" font-size="7.60" textLength="16.23" lengthAdjust="spacingAndGlyphs">ALCL</text>
<rect x="48" y="461.55" width="8.9" height="8.3" fill="#8e86d0"/>
<text x="60.00" y="467.85" font-size="7.60" textLength="16.18" lengthAdjust="spacingAndGlyphs">CTCL</text>
<rect x="48" y="473.5" width="8.9" height="8.3" fill="#dd8a17"/>
<text x="60.00" y="479.80" font-size="7.60" textLength="16.48" lengthAdjust="spacingAndGlyphs">NKTL</text>
<rect x="48" y="485.45000000000005" width="8.9" height="8.3" fill="#a9c08b"/>
<text x="60.00" y="491.75" font-size="7.60" textLength="32.13" lengthAdjust="spacingAndGlyphs">PTCL-NOS</text>
<text x="114.20" y="444.10" font-size="7.56" textLength="43.67" lengthAdjust="spacingAndGlyphs">Sample type</text>
<rect x="114.5" y="449.6" width="8.9" height="8.3" fill="#c8c7cd"/>
<text x="126.80" y="455.90" font-size="7.60" textLength="40.88" lengthAdjust="spacingAndGlyphs">Tumor tissue</text>
<rect x="114.5" y="461.55" width="8.9" height="8.3" fill="#d48c80"/>
<text x="126.80" y="467.85" font-size="7.60" textLength="25.01" lengthAdjust="spacingAndGlyphs">Cell line</text>
<text x="186.00" y="444.10" font-size="7.56" textLength="49.74" lengthAdjust="spacingAndGlyphs">Mutation type</text>
<rect x="186.3" y="449.6" width="8.9" height="8.3" fill="#67a840"/>
<text x="198.60" y="455.90" font-size="7.60" textLength="28.75" lengthAdjust="spacingAndGlyphs">Missense</text>
<rect x="186.3" y="461.55" width="8.9" height="8.3" fill="#a3001f"/>
<text x="198.60" y="467.85" font-size="7.60" textLength="31.24" lengthAdjust="spacingAndGlyphs">Nonsense</text>
<rect x="258.5" y="449.6" width="8.9" height="8.3" fill="#4b1b6e"/>
<text x="270.60" y="455.90" font-size="7.60" textLength="53.56" lengthAdjust="spacingAndGlyphs">Frame-shift indel</text>
<rect x="258.5" y="461.55" width="8.9" height="8.3" fill="#efb41f"/>
<text x="270.60" y="467.85" font-size="7.60" textLength="44.38" lengthAdjust="spacingAndGlyphs">In-frame indel</text>
<rect x="344.6" y="449.6" width="8.9" height="8.3" fill="#5fa7e0"/>
<text x="356.80" y="455.90" font-size="7.60" textLength="26.74" lengthAdjust="spacingAndGlyphs">Stoploss</text>
<rect x="20" y="594.9" width="431.7" height="8.5" fill="#c9c8cd"/>
<rect x="20.5" y="591.7" width="66.4" height="15.6" fill="#2f6a4f"/>
<rect x="98.7" y="591.7" width="100.1" height="15.6" fill="#c90a80"/>
<rect x="199.7" y="591.7" width="141.1" height="15.6" fill="#2b4b87"/>
<rect x="347.4" y="591.7" width="50.8" height="15.6" fill="#e9b81d"/>
<text x="34.95" y="602.00" font-size="8.40" textLength="37.51" lengthAdjust="spacingAndGlyphs" style="fill:#fff;stroke:#fff">N-terminal</text>
<text x="129.96" y="602.00" font-size="8.40" textLength="37.28" lengthAdjust="spacingAndGlyphs" style="fill:#fff;stroke:#fff">Coiled-coil</text>
<text x="247.25" y="602.00" font-size="8.40" textLength="46.31" lengthAdjust="spacingAndGlyphs" style="fill:#fff;stroke:#fff">DNA-binding</text>
<text x="365.84" y="602.10" font-size="8.40" textLength="13.93" lengthAdjust="spacingAndGlyphs" style="fill:#2a2208;stroke:#2a2208">SH2</text>
<rect x="19.3" y="609.9" width="435" height="1.05" fill="#111"/>
<rect x="75.08" y="610.4" width="0.9" height="3.1" fill="#111"/>
<rect x="131.21" y="610.4" width="0.9" height="3.1" fill="#111"/>
<rect x="187.34" y="610.4" width="0.9" height="3.1" fill="#111"/>
<rect x="243.47" y="610.4" width="0.9" height="3.1" fill="#111"/>
<rect x="299.60" y="610.4" width="0.9" height="3.1" fill="#111"/>
<rect x="355.73" y="610.4" width="0.9" height="3.1" fill="#111"/>
<rect x="411.86" y="610.4" width="0.9" height="3.1" fill="#111"/>
<rect x="451.15" y="610.4" width="0.9" height="3.1" fill="#111"/>
<text x="17.22" y="623.80" font-size="8.50" textLength="4.36" lengthAdjust="spacingAndGlyphs">0</text>
<text x="125.12" y="623.80" font-size="8.50" textLength="13.08" lengthAdjust="spacingAndGlyphs">200</text>
<text x="237.38" y="623.80" font-size="8.50" textLength="13.08" lengthAdjust="spacingAndGlyphs">400</text>
<text x="349.64" y="623.80" font-size="8.50" textLength="13.08" lengthAdjust="spacingAndGlyphs">600</text>
<text x="440.80" y="623.80" font-size="8.50" textLength="23.08" lengthAdjust="spacingAndGlyphs">770 aa</text>
<polyline points="115.5,546.8 115.5,574.4" fill="none" stroke="#8a8a8a" stroke-width="0.7"/>
<text transform="translate(118.60,543.90) rotate(-90)" font-size="8.60" textLength="24.62" lengthAdjust="spacingAndGlyphs">D171N</text>
<polyline points="175.5,546.8 175.5,574.4" fill="none" stroke="#8a8a8a" stroke-width="0.7"/>
<text transform="translate(178.60,543.90) rotate(-90)" font-size="8.60" textLength="23.47" lengthAdjust="spacingAndGlyphs">R278H</text>
<polyline points="212.5,546.8 212.7,574.4" fill="none" stroke="#8a8a8a" stroke-width="0.7"/>
<text transform="translate(215.60,543.90) rotate(-90)" font-size="8.60" textLength="24.77" lengthAdjust="spacingAndGlyphs">Q344H</text>
<polyline points="249.5,546.8 249.7,574.4" fill="none" stroke="#8a8a8a" stroke-width="0.7"/>
<text transform="translate(252.60,543.90) rotate(-90)" font-size="8.60" textLength="23.47" lengthAdjust="spacingAndGlyphs">H410R</text>
<polyline points="259.4,546.8 259.2,574.4" fill="none" stroke="#8a8a8a" stroke-width="0.7"/>
<text transform="translate(262.50,543.90) rotate(-90)" font-size="8.60" textLength="24.57" lengthAdjust="spacingAndGlyphs">D427H</text>
<polyline points="337.9,546.8 337.9,569.1" fill="none" stroke="#8a8a8a" stroke-width="0.7"/>
<text transform="translate(341.00,543.90) rotate(-90)" font-size="8.60" textLength="24.62" lengthAdjust="spacingAndGlyphs">D566N</text>
<polyline points="346.3,546.8 346.3,548.4 352.2,550.0 352.2,569.1" fill="none" stroke="#8a8a8a" stroke-width="0.7"/>
<text transform="translate(349.40,543.90) rotate(-90)" font-size="8.60" textLength="22.10" lengthAdjust="spacingAndGlyphs">S614R</text>
<polyline points="353.7,546.8 353.7,548.4 359.4,550.0 359.4,574.4" fill="none" stroke="#8a8a8a" stroke-width="0.7"/>
<text transform="translate(356.80,543.90) rotate(-90)" font-size="8.60" textLength="23.02" lengthAdjust="spacingAndGlyphs">E616G</text>
<polyline points="361.0,546.8 361.0,548.4 365.4,550.0 365.4,574.4" fill="none" stroke="#8a8a8a" stroke-width="0.7"/>
<text transform="translate(364.10,543.90) rotate(-90)" font-size="8.60" textLength="22.13" lengthAdjust="spacingAndGlyphs">E616K</text>
<polyline points="369.0,546.8 369.0,548.4 372.3,550.0 372.3,562.7" fill="none" stroke="#8a8a8a" stroke-width="0.7"/>
<text transform="translate(372.10,543.90) rotate(-90)" font-size="8.60" textLength="23.42" lengthAdjust="spacingAndGlyphs">G618R</text>
<polyline points="375.8,546.8 375.8,548.4 379.0,550.0 379.0,569.1" fill="none" stroke="#8a8a8a" stroke-width="0.7"/>
<text transform="translate(378.90,543.90) rotate(-90)" font-size="8.60" textLength="22.08" lengthAdjust="spacingAndGlyphs">Y640F</text>
<polyline points="383.5,546.8 383.5,548.4 385.1,550.0 385.1,569.1" fill="none" stroke="#8a8a8a" stroke-width="0.7"/>
<text transform="translate(386.60,543.90) rotate(-90)" font-size="8.60" textLength="20.95" lengthAdjust="spacingAndGlyphs">N647I</text>
<polyline points="391.2,546.8 391.1,558.3" fill="none" stroke="#8a8a8a" stroke-width="0.7"/>
<text transform="translate(394.30,543.90) rotate(-90)" font-size="8.60" textLength="23.62" lengthAdjust="spacingAndGlyphs">D661Y</text>
<polyline points="398.8,546.8 398.8,548.4 397.5,550.0 397.5,574.4" fill="none" stroke="#8a8a8a" stroke-width="0.7"/>
<text transform="translate(401.90,543.90) rotate(-90)" font-size="8.60" textLength="22.09" lengthAdjust="spacingAndGlyphs">V667L</text>
<polyline points="411.0,546.8 410.6,574.4" fill="none" stroke="#8a8a8a" stroke-width="0.7"/>
<text transform="translate(414.10,543.90) rotate(-90)" font-size="8.60" textLength="22.13" lengthAdjust="spacingAndGlyphs">E696K</text>
<polyline points="420.4,546.8 420.4,574.4" fill="none" stroke="#8a8a8a" stroke-width="0.7"/>
<text transform="translate(423.50,543.90) rotate(-90)" font-size="8.60" textLength="21.87" lengthAdjust="spacingAndGlyphs">P715L</text>
<polyline points="115.5,578 115.5,591.8" fill="none" stroke="#111" stroke-width="1.0"/>
<polyline points="175.5,578 175.5,591.8" fill="none" stroke="#111" stroke-width="1.0"/>
<polyline points="212.5,578 212.5,591.8" fill="none" stroke="#111" stroke-width="1.0"/>
<polyline points="249.5,578 249.5,591.8" fill="none" stroke="#111" stroke-width="1.0"/>
<polyline points="259.2,578 259.2,591.8" fill="none" stroke="#111" stroke-width="1.0"/>
<polyline points="337.9,578 337.9,591.8" fill="none" stroke="#111" stroke-width="1.0"/>
<polyline points="379.0,578 379.0,591.8" fill="none" stroke="#111" stroke-width="1.0"/>
<polyline points="385.1,578 385.1,591.8" fill="none" stroke="#111" stroke-width="1.0"/>
<polyline points="390.8,578 390.8,591.8" fill="none" stroke="#111" stroke-width="0.9"/>
<polyline points="352.2,578 352.9,582.2 365.4,584.6" fill="none" stroke="#111" stroke-width="0.9"/>
<polyline points="359.4,578 359.9,581.8 365.4,584.3" fill="none" stroke="#111" stroke-width="0.9"/>
<polyline points="372.3,578 371.5,582.2 365.4,584.6" fill="none" stroke="#111" stroke-width="0.9"/>
<polyline points="365.4,578 365.4,591.8" fill="none" stroke="#111" stroke-width="1.3"/>
<polyline points="397.5,578 394.4,583.5 394.4,591.8" fill="none" stroke="#111" stroke-width="0.9"/>
<polyline points="410.5,578 410.5,595.3" fill="none" stroke="#111" stroke-width="1.0"/>
<polyline points="420.5,578 420.5,595.3" fill="none" stroke="#111" stroke-width="1.0"/>
<circle cx="115.5" cy="577.8" r="2.4" fill="#2b4b87" stroke="#1a1a1a" stroke-width="0.65"/>
<circle cx="175.5" cy="577.8" r="2.4" fill="#76b543" stroke="#1a1a1a" stroke-width="0.65"/>
<circle cx="212.7" cy="577.8" r="2.4" fill="#76b543" stroke="#1a1a1a" stroke-width="0.65"/>
<circle cx="249.7" cy="577.8" r="2.4" fill="#76b543" stroke="#1a1a1a" stroke-width="0.65"/>
<circle cx="259.2" cy="577.8" r="2.4" fill="#2b4b87" stroke="#1a1a1a" stroke-width="0.65"/>
<circle cx="337.9" cy="577.8" r="2.4" fill="#2b4b87" stroke="#1a1a1a" stroke-width="0.65"/>
<circle cx="337.9" cy="572.5" r="2.4" fill="#2b4b87" stroke="#1a1a1a" stroke-width="0.65"/>
<circle cx="352.2" cy="577.8" r="2.4" fill="#b30a35" stroke="#1a1a1a" stroke-width="0.65"/>
<circle cx="352.2" cy="572.5" r="2.4" fill="#b30a35" stroke="#1a1a1a" stroke-width="0.65"/>
<circle cx="359.4" cy="577.8" r="2.4" fill="#2b4b87" stroke="#1a1a1a" stroke-width="0.65"/>
<circle cx="365.4" cy="577.8" r="2.4" fill="#2b4b87" stroke="#1a1a1a" stroke-width="0.65"/>
<circle cx="372.3" cy="577.8" r="2.4" fill="#b30a35" stroke="#1a1a1a" stroke-width="0.65"/>
<circle cx="372.3" cy="572.5" r="2.4" fill="#b30a35" stroke="#1a1a1a" stroke-width="0.65"/>
<polygon points="372.3,564.0 375.2,569.3 369.4,569.3" fill="#b30a35" stroke="#222" stroke-width="0.5"/>
<circle cx="379.0" cy="577.8" r="2.4" fill="#b30a35" stroke="#1a1a1a" stroke-width="0.65"/>
<circle cx="379.0" cy="572.5" r="2.4" fill="#b30a35" stroke="#1a1a1a" stroke-width="0.65"/>
<circle cx="385.1" cy="577.8" r="2.4" fill="#b30a35" stroke="#1a1a1a" stroke-width="0.65"/>
<rect x="382.7" y="570.1" width="4.8" height="4.8" fill="#b30a35" stroke="#222" stroke-width="0.5"/>
<circle cx="391.1" cy="577.8" r="2.4" fill="#b30a35" stroke="#1a1a1a" stroke-width="0.65"/>
<circle cx="391.1" cy="572.5" r="2.4" fill="#b30a35" stroke="#1a1a1a" stroke-width="0.65"/>
<circle cx="391.1" cy="567.1" r="2.4" fill="#b30a35" stroke="#1a1a1a" stroke-width="0.65"/>
<circle cx="391.1" cy="561.7" r="2.4" fill="#b30a35" stroke="#1a1a1a" stroke-width="0.65"/>
<circle cx="397.5" cy="577.8" r="2.4" fill="#2b4b87" stroke="#1a1a1a" stroke-width="0.65"/>
<circle cx="410.6" cy="577.8" r="2.4" fill="#2b4b87" stroke="#1a1a1a" stroke-width="0.65"/>
<circle cx="420.4" cy="577.8" r="2.4" fill="#2b4b87" stroke="#1a1a1a" stroke-width="0.65"/>
<circle cx="97" cy="633.1" r="2.7" fill="#b30a35" stroke="#1a1a1a" stroke-width="0.85"/>
<text x="102.60" y="635.60" font-size="7.70" textLength="26.00" lengthAdjust="spacingAndGlyphs">Hotspot</text>
<circle cx="140.6" cy="633.1" r="2.7" fill="#76b543" stroke="#1a1a1a" stroke-width="0.85"/>
<text x="146.40" y="635.60" font-size="7.70" textLength="71.01" lengthAdjust="spacingAndGlyphs">Functionally validated</text>
<circle cx="231.3" cy="633.1" r="2.7" fill="#2b4b87" stroke="#1a1a1a" stroke-width="0.85"/>
<text x="237.30" y="635.60" font-size="7.70" textLength="18.67" lengthAdjust="spacingAndGlyphs">Novel</text>
<circle cx="267" cy="633.1" r="2.6" fill="none" stroke="#222" stroke-width="0.8"/>
<text x="272.10" y="635.60" font-size="7.70" textLength="16.70" lengthAdjust="spacingAndGlyphs">NKTL</text>
<rect x="299.4" y="630.2" width="5.8" height="5.8" fill="none" stroke="#222" stroke-width="0.8"/>
<text x="307.90" y="635.60" font-size="7.70" textLength="32.56" lengthAdjust="spacingAndGlyphs">PTCL-NOS</text>
<polygon points="355.6,629.8 358.8,636 352.4,636" fill="none" stroke="#222" stroke-width="0.8"/>
<text x="361.80" y="635.60" font-size="7.70" textLength="16.45" lengthAdjust="spacingAndGlyphs">ALCL</text>
</svg>
</body></html>
